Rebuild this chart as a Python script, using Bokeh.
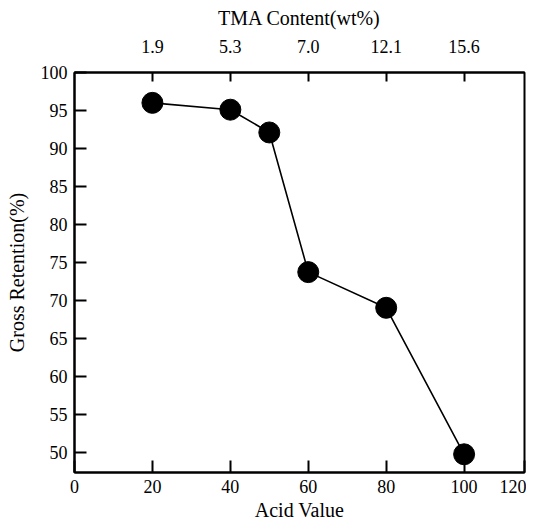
from bokeh.plotting import figure
from bokeh.models import LinearAxis, FixedTicker, Range1d
from bokeh.embed import file_html
from bokeh.resources import INLINE

# Data
acid_value = [20, 40, 50, 60, 80, 100]
retention = [96.0, 95.1, 92.1, 73.7, 69.0, 49.7]

x_ticks = [0, 20, 40, 60, 80, 100]
x_end = 115.5           # the hand-drawn frame ends where "120" is written
x_end_label = "120"
y_ticks = [50, 55, 60, 65, 70, 75, 80, 85, 90, 95, 100]
tma_positions = [20, 40, 60, 80, 100]
tma_labels = ["1.9", "5.3", "7.0", "12.1", "15.6"]

FONT = "Liberation Serif"

p = figure(width=526, height=523, output_backend="svg", toolbar_location=None,
           x_range=Range1d(0, x_end), y_range=Range1d(47.3, 100),
           min_border_left=74, min_border_right=2, min_border_top=72, min_border_bottom=48)
p.grid.visible = False
p.outline_line_color = "black"
p.outline_line_width = 2

p.line(acid_value, retention, line_color="black", line_width=1.6)
p.scatter(acid_value, retention, size=21, fill_color="black", line_color="black")

def style(ax, tick_in):
    ax.axis_line_color = "black"
    ax.axis_line_width = 2
    ax.major_tick_line_color = "black"
    ax.major_tick_line_width = 2
    ax.major_tick_in = tick_in
    ax.major_tick_out = 0
    ax.minor_tick_line_color = None
    ax.major_label_text_font = FONT
    ax.major_label_text_font_size = "18px"
    ax.major_label_text_color = "black"
    ax.axis_label_text_font = FONT
    ax.axis_label_text_font_size = "20px"
    ax.axis_label_text_font_style = "normal"
    ax.axis_label_text_color = "black"

xa = p.xaxis[0]
xa.ticker = FixedTicker(ticks=x_ticks + [x_end])
xa.major_label_overrides = {x_end: x_end_label}
xa.axis_label = "Acid Value"
style(xa, 12)
xa.major_label_standoff = 7
xa.axis_label_standoff = 3

ya = p.yaxis[0]
ya.ticker = FixedTicker(ticks=y_ticks)
ya.axis_label = "Gross Retention(%)"
style(ya, 12)
ya.major_label_standoff = 7
ya.axis_label_standoff = 10

top = LinearAxis(ticker=FixedTicker(ticks=tma_positions),
                 major_label_overrides=dict(zip(tma_positions, tma_labels)),
                 axis_label="TMA Content(wt%)")
style(top, 9)
top.major_label_standoff = 20
top.axis_label_standoff = 8
p.add_layout(top, "above")

open("out.html", "w").write(file_html(p, INLINE))
